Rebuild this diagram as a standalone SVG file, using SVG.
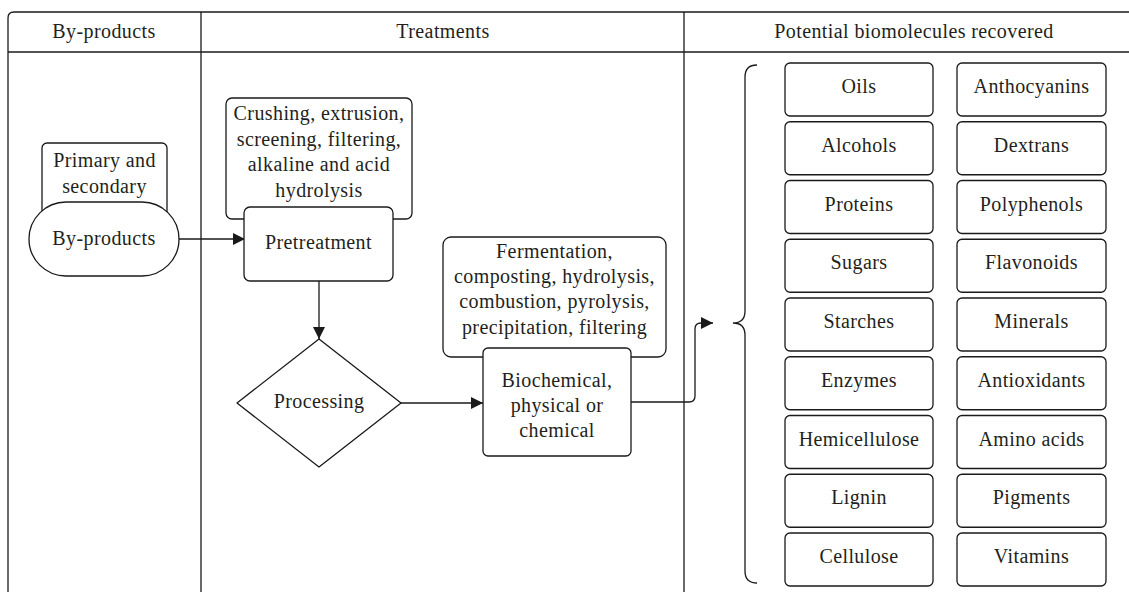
<svg xmlns="http://www.w3.org/2000/svg" width="1129" height="592" viewBox="0 0 1129 592">
<defs>
<marker id="arr" markerWidth="12" markerHeight="12" viewBox="0 0 12 12" refX="12" refY="6" orient="auto" markerUnits="userSpaceOnUse">
<path d="M0,0 L12,6 L0,12 Z" fill="#1a1a1a"/>
</marker>
</defs>
<style>
text{font-family:'Liberation Serif','DejaVu Serif',serif;font-size:20px;fill:#231f20;text-anchor:middle;letter-spacing:0.4px}
.ln{fill:none;stroke:#1a1a1a;stroke-width:1.3}
.bx{fill:#fff;stroke:#1a1a1a;stroke-width:1.3}
</style>
<rect width="1129" height="592" fill="#fff"/>
<g id="frame">
<path class="ln" d="M8,592 V18 Q8,12 14,12 H1129"/>
<path class="ln" d="M8,52 H1129"/>
<path class="ln" d="M201,12 V592"/>
<path class="ln" d="M684,12 V592"/>
<text x="104" y="38">By-products</text>
<text x="443" y="38">Treatments</text>
<text x="914" y="38">Potential biomolecules recovered</text>
</g>
<g id="connectors">
<path class="ln" d="M179,239 H245" marker-end="url(#arr)"/>
<path class="ln" d="M319,281 V339" marker-end="url(#arr)"/>
<path class="ln" d="M401,403 H483" marker-end="url(#arr)"/>
<path class="ln" d="M631,402 H689 Q695,402 695,396 V329 Q695,323 701,323 H713" marker-end="url(#arr)"/>
<path class="ln" d="M757,65 Q745,65 745,77 V311 Q745,323 733,323 Q745,323 745,335 V571 Q745,583 757,583"/>
</g>
<g id="primary">
<rect class="bx" x="42" y="143" width="125" height="90" rx="5"/>
<text x="104.5" y="167">Primary and</text>
<text x="104.5" y="193">secondary</text>
</g>
<g id="byproducts">
<rect class="bx" x="29" y="202" width="150" height="74" rx="37"/>
<text x="104" y="245">By-products</text>
</g>
<g id="crushing">
<rect class="bx" x="226" y="98" width="186" height="121" rx="6"/>
<text x="319" y="120">Crushing, extrusion,</text>
<text x="319" y="146">screening, filtering,</text>
<text x="319" y="171">alkaline and acid</text>
<text x="319" y="197">hydrolysis</text>
</g>
<g id="pretreatment">
<rect class="bx" x="244" y="207" width="149" height="74" rx="6"/>
<text x="318.5" y="249">Pretreatment</text>
</g>
<g id="processing">
<path class="bx" d="M319,339 L401,403 L319,467 L237,403 Z" stroke-linejoin="round"/>
<text x="319" y="408">Processing</text>
</g>
<g id="fermentation">
<rect class="bx" x="443" y="237" width="223" height="120" rx="8"/>
<text x="554.5" y="258">Fermentation,</text>
<text x="554.5" y="283">composting, hydrolysis,</text>
<text x="554.5" y="308">combustion, pyrolysis,</text>
<text x="554.5" y="334">precipitation, filtering</text>
</g>
<g id="biochemical">
<rect class="bx" x="483" y="348" width="148" height="108" rx="5"/>
<text x="557" y="387">Biochemical,</text>
<text x="557" y="412">physical or</text>
<text x="557" y="437">chemical</text>
</g>
<g id="items">
<g id="oils"><rect class="bx" x="785" y="63" width="148" height="53" rx="5"/><text x="859" y="93">Oils</text></g>
<g id="alcohols"><rect class="bx" x="785" y="121.75" width="148" height="53" rx="5"/><text x="859" y="151.75">Alcohols</text></g>
<g id="proteins"><rect class="bx" x="785" y="180.5" width="148" height="53" rx="5"/><text x="859" y="210.5">Proteins</text></g>
<g id="sugars"><rect class="bx" x="785" y="239.25" width="148" height="53" rx="5"/><text x="859" y="269.25">Sugars</text></g>
<g id="starches"><rect class="bx" x="785" y="298" width="148" height="53" rx="5"/><text x="859" y="328">Starches</text></g>
<g id="enzymes"><rect class="bx" x="785" y="356.75" width="148" height="53" rx="5"/><text x="859" y="386.75">Enzymes</text></g>
<g id="hemicellulose"><rect class="bx" x="785" y="415.5" width="148" height="53" rx="5"/><text x="859" y="445.5">Hemicellulose</text></g>
<g id="lignin"><rect class="bx" x="785" y="474.25" width="148" height="53" rx="5"/><text x="859" y="504.25">Lignin</text></g>
<g id="cellulose"><rect class="bx" x="785" y="533" width="148" height="53" rx="5"/><text x="859" y="563">Cellulose</text></g>
<g id="anthocyanins"><rect class="bx" x="957" y="63" width="149" height="53" rx="5"/><text x="1031.5" y="93">Anthocyanins</text></g>
<g id="dextrans"><rect class="bx" x="957" y="121.75" width="149" height="53" rx="5"/><text x="1031.5" y="151.75">Dextrans</text></g>
<g id="polyphenols"><rect class="bx" x="957" y="180.5" width="149" height="53" rx="5"/><text x="1031.5" y="210.5">Polyphenols</text></g>
<g id="flavonoids"><rect class="bx" x="957" y="239.25" width="149" height="53" rx="5"/><text x="1031.5" y="269.25">Flavonoids</text></g>
<g id="minerals"><rect class="bx" x="957" y="298" width="149" height="53" rx="5"/><text x="1031.5" y="328">Minerals</text></g>
<g id="antioxidants"><rect class="bx" x="957" y="356.75" width="149" height="53" rx="5"/><text x="1031.5" y="386.75">Antioxidants</text></g>
<g id="aminoacids"><rect class="bx" x="957" y="415.5" width="149" height="53" rx="5"/><text x="1031.5" y="445.5">Amino acids</text></g>
<g id="pigments"><rect class="bx" x="957" y="474.25" width="149" height="53" rx="5"/><text x="1031.5" y="504.25">Pigments</text></g>
<g id="vitamins"><rect class="bx" x="957" y="533" width="149" height="53" rx="5"/><text x="1031.5" y="563">Vitamins</text></g>
</g>
</svg>
